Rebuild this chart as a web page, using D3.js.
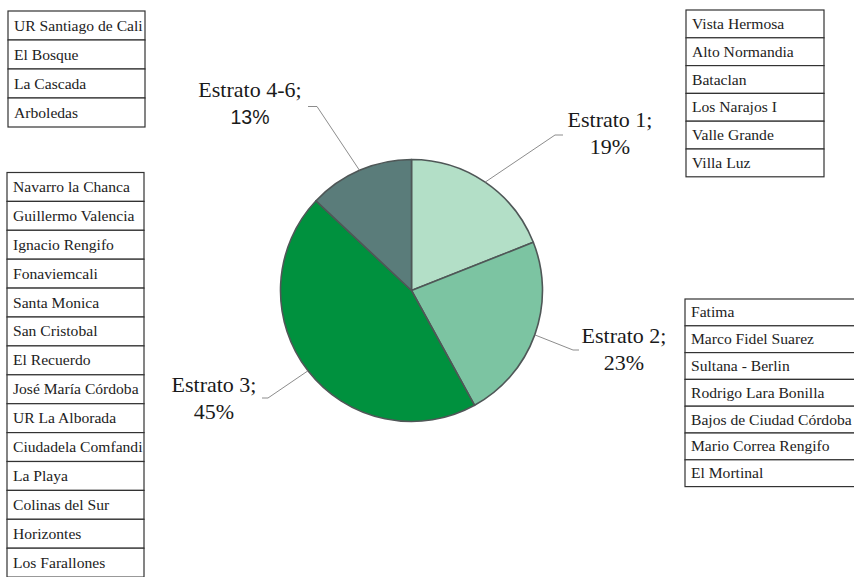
<!DOCTYPE html>
<html><head><meta charset="utf-8">
<script src="https://cdn.jsdelivr.net/npm/d3@7"></script>
<style>body{margin:0;background:#fff}svg{display:block}</style>
</head><body>
<svg id="c" width="854" height="577"></svg>
<script>
const categories = ["Estrato 1", "Estrato 2", "Estrato 3", "Estrato 4-6"];
const values = [19, 23, 45, 13];
const colors = ["#b3dfc7", "#7cc4a2", "#00913e", "#5a7c7a"];

const tableTopLeft = ["UR Santiago de Cali", "El Bosque", "La Cascada", "Arboledas"];
const tableLeft = ["Navarro la Chanca", "Guillermo Valencia", "Ignacio Rengifo", "Fonaviemcali", "Santa Monica", "San Cristobal", "El Recuerdo", "José María Córdoba", "UR La Alborada", "Ciudadela Comfandi", "La Playa", "Colinas del Sur", "Horizontes", "Los Farallones"];
const tableTopRight = ["Vista Hermosa", "Alto Normandia", "Bataclan", "Los Narajos I", "Valle Grande", "Villa Luz"];
const tableRight = ["Fatima", "Marco Fidel Suarez", "Sultana - Berlin", "Rodrigo Lara Bonilla", "Bajos de Ciudad Córdoba", "Mario Correa Rengifo", "El Mortinal"];

const svg = d3.select("#c");
const cx = 411.5, cy = 290.5, R = 131;
const serif = "'Liberation Serif', 'DejaVu Serif', serif";

const pie = d3.pie().sort(null).value(d => d)(values);
const arc = d3.arc().innerRadius(0).outerRadius(R);
const g = svg.append("g").attr("transform", `translate(${cx},${cy})`);

// label layout (per category)
const labelLayout = [
  {elbow:[555,135], end:[563,135], tx:610, ty:126.5, pctSans:false},
  {elbow:[573,350], end:[579,350], tx:624, ty:343, pctSans:false},
  {elbow:[268,398], end:[262,398], tx:214, ty:392, pctSans:false},
  {elbow:[317,106.5], end:[308,106.5], tx:250, ty:96.5, pctSans:true}
];

// leader lines
pie.forEach((p, i) => {
  const a = (p.startAngle + p.endAngle) / 2;
  const sx = cx + R * Math.sin(a), sy = cy - R * Math.cos(a);
  const L = labelLayout[i];
  svg.append("polyline")
    .attr("points", [[sx, sy], L.elbow, L.end].map(q => q.join(",")).join(" "))
    .attr("fill", "none").attr("stroke", "#7f7f7f").attr("stroke-width", 0.9);
});

g.selectAll("path").data(pie).join("path")
  .attr("d", arc)
  .attr("fill", (d, i) => colors[i])
  .attr("stroke", "#4f5757").attr("stroke-width", 1.6).attr("stroke-linejoin", "round");

pie.forEach((p, i) => {
  const L = labelLayout[i];
  svg.append("text").attr("x", L.tx).attr("y", L.ty)
    .attr("text-anchor", "middle").attr("font-family", serif).attr("font-size", 22)
    .attr("fill", "#1a1a1a").text(categories[i] + ";");
  svg.append("text").attr("x", L.tx).attr("y", L.ty + 27)
    .attr("text-anchor", "middle")
    .attr("font-family", L.pctSans ? "'Liberation Sans', Arial, sans-serif" : serif)
    .attr("font-size", L.pctSans ? 19.5 : 22)
    .attr("fill", "#1a1a1a").text(values[i] + "%");
});

function drawTable(names, x, y0, w, rowH) {
  const t = svg.append("g");
  names.forEach((n, i) => {
    const y = y0 + i * rowH;
    t.append("rect").attr("x", x).attr("y", y).attr("width", w).attr("height", rowH)
      .attr("fill", "#fff").attr("stroke", "#333").attr("stroke-width", 1.2);
    t.append("text").attr("x", x + 6).attr("y", y + rowH / 2 + 5)
      .attr("font-family", serif).attr("font-size", 15.6).attr("fill", "#222").text(n);
  });
}
drawTable(tableTopLeft, 8, 11, 137, 29);
drawTable(tableLeft, 7, 172.5, 137, 28.9);
drawTable(tableTopRight, 686, 10, 138, 27.8);
drawTable(tableRight, 685, 299, 180, 26.8);
</script>
</body></html>
